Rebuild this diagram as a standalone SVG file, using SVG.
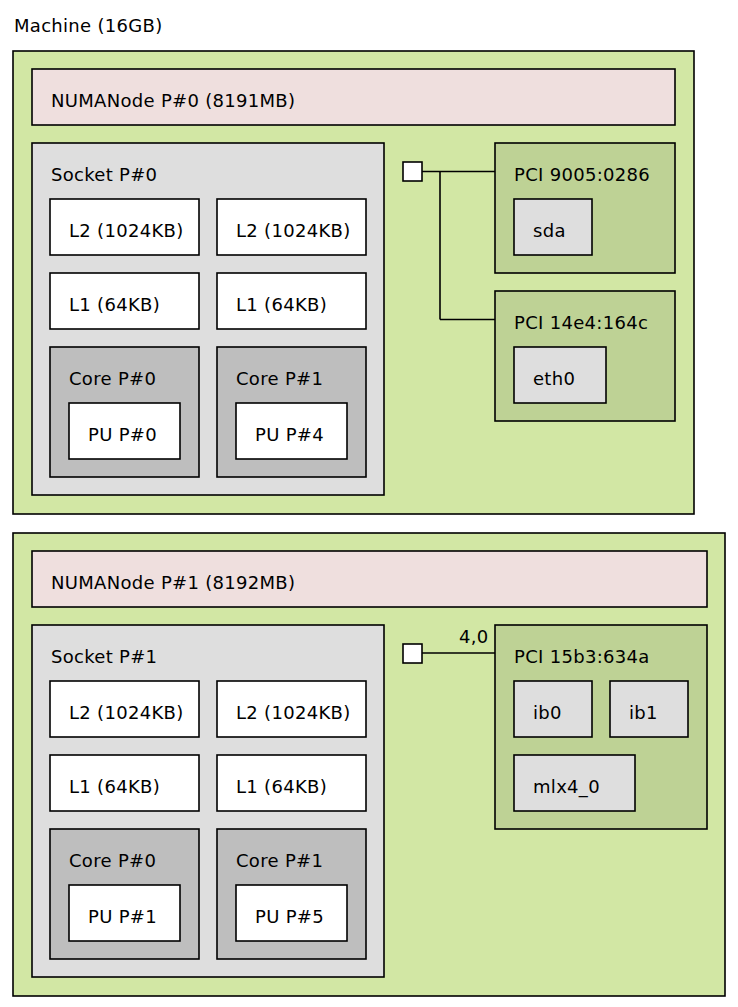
<svg xmlns="http://www.w3.org/2000/svg" width="738" height="1007" viewBox="0 0 738 1007">
<style>
.box{stroke:#000;stroke-width:1.6}
.machine{fill:#d2e7a4}
.numa{fill:#efdfde}
.sock{fill:#dedede}
.cache{fill:#ffffff}
.core{fill:#bebebe}
.pu{fill:#ffffff}
.pci{fill:#bed295}
.osdev{fill:#dedede}
.bridge{fill:#ffffff}
text{font-family:"DejaVu Sans","Liberation Sans",sans-serif;font-size:18px;letter-spacing:0.3px;fill:#000}
.conn line{stroke:#000;stroke-width:1.6}
</style>
<rect width="738" height="1007" fill="#fff"/>
<text x="14" y="32">Machine (16GB)</text>
<g id="machine0"><rect class="box machine" x="13" y="51" width="681" height="463"/></g>
<g id="numa0"><rect class="box numa" x="32" y="69" width="643" height="56"/><text x="51" y="107">NUMANode P#0 (8191MB)</text></g>
<g id="socket0"><rect class="box sock" x="32" y="143" width="352" height="352"/><text x="51" y="181">Socket P#0</text></g>
<g id="l2-0a"><rect class="box cache" x="50" y="199" width="149" height="56"/><text x="69" y="237">L2 (1024KB)</text></g>
<g id="l2-0b"><rect class="box cache" x="217" y="199" width="149" height="56"/><text x="236" y="237">L2 (1024KB)</text></g>
<g id="l1-0a"><rect class="box cache" x="50" y="273" width="149" height="56"/><text x="69" y="311">L1 (64KB)</text></g>
<g id="l1-0b"><rect class="box cache" x="217" y="273" width="149" height="56"/><text x="236" y="311">L1 (64KB)</text></g>
<g id="core-0a"><rect class="box core" x="50" y="347" width="149" height="130"/><text x="69" y="385">Core P#0</text></g>
<g id="core-0b"><rect class="box core" x="217" y="347" width="149" height="130"/><text x="236" y="385">Core P#1</text></g>
<g id="pu0"><rect class="box pu" x="69" y="403" width="111" height="56"/><text x="88" y="441">PU P#0</text></g>
<g id="pu4"><rect class="box pu" x="236" y="403" width="111" height="56"/><text x="255" y="441">PU P#4</text></g>
<g id="bridge0"><rect class="box bridge" x="403" y="162" width="19" height="19"/></g>
<g id="pci-9005"><rect class="box pci" x="495" y="143" width="180" height="130"/><text x="514" y="181">PCI 9005:0286</text></g>
<g id="sda"><rect class="box osdev" x="514" y="199" width="78" height="56"/><text x="533" y="237">sda</text></g>
<g id="pci-14e4"><rect class="box pci" x="495" y="291" width="180" height="130"/><text x="514" y="329">PCI 14e4:164c</text></g>
<g id="eth0"><rect class="box osdev" x="514" y="347" width="92" height="56"/><text x="533" y="385">eth0</text></g>

<g id="machine1"><rect class="box machine" x="13" y="533" width="712" height="463"/></g>
<g id="numa1"><rect class="box numa" x="32" y="551" width="675" height="56"/><text x="51" y="589">NUMANode P#1 (8192MB)</text></g>
<g id="socket1"><rect class="box sock" x="32" y="625" width="352" height="352"/><text x="51" y="663">Socket P#1</text></g>
<g id="l2-1a"><rect class="box cache" x="50" y="681" width="149" height="56"/><text x="69" y="719">L2 (1024KB)</text></g>
<g id="l2-1b"><rect class="box cache" x="217" y="681" width="149" height="56"/><text x="236" y="719">L2 (1024KB)</text></g>
<g id="l1-1a"><rect class="box cache" x="50" y="755" width="149" height="56"/><text x="69" y="793">L1 (64KB)</text></g>
<g id="l1-1b"><rect class="box cache" x="217" y="755" width="149" height="56"/><text x="236" y="793">L1 (64KB)</text></g>
<g id="core-1a"><rect class="box core" x="50" y="829" width="149" height="130"/><text x="69" y="867">Core P#0</text></g>
<g id="core-1b"><rect class="box core" x="217" y="829" width="149" height="130"/><text x="236" y="867">Core P#1</text></g>
<g id="pu1"><rect class="box pu" x="69" y="885" width="111" height="56"/><text x="88" y="923">PU P#1</text></g>
<g id="pu5"><rect class="box pu" x="236" y="885" width="111" height="56"/><text x="255" y="923">PU P#5</text></g>
<g id="bridge1"><rect class="box bridge" x="403" y="644" width="19" height="19"/></g>
<g id="pci-15b3"><rect class="box pci" x="495" y="625" width="212" height="204"/><text x="514" y="663">PCI 15b3:634a</text></g>
<g id="ib0"><rect class="box osdev" x="514" y="681" width="78" height="56"/><text x="533" y="719">ib0</text></g>
<g id="ib1"><rect class="box osdev" x="610" y="681" width="78" height="56"/><text x="629" y="719">ib1</text></g>
<g id="mlx4_0"><rect class="box osdev" x="514" y="755" width="121" height="56"/><text x="533" y="793">mlx4_0</text></g>

<g id="connectors" class="conn">
<line x1="422" y1="171.5" x2="495" y2="171.5"/>
<line x1="440" y1="171.5" x2="440" y2="319.5"/>
<line x1="440" y1="319.5" x2="495" y2="319.5"/>
<line x1="422" y1="653" x2="495" y2="653"/>
<text x="459" y="643">4,0</text>
</g>
</svg>
